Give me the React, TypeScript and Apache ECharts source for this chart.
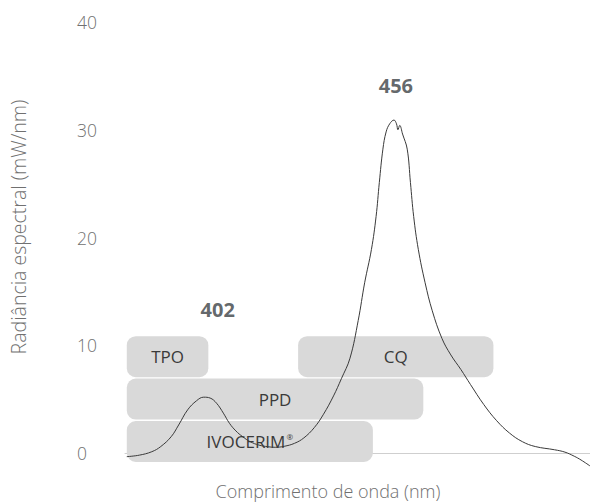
import React, { useEffect, useRef } from "react";
import * as echarts from "echarts";

// Spectral curve: wavelength (nm) vs spectral radiance (mW/nm)
const wavelengths = [
  380.5, 384, 387.5, 390, 392.9, 395, 397.5, 400, 402, 403.8, 405.6, 407.5, 409.2, 411, 412.9,
  415, 417.4, 420, 422, 424.5, 427.4, 430, 432.9, 435.5, 438.3, 440.5, 442.9, 445.2,
  447, 448.9, 450.2, 451.1, 452.1, 453, 454, 455.2, 455.9, 456.3, 456.8, 457.6, 458.9, 459.8,
  460.7, 462, 463.9, 465.9, 468.6, 471.1, 473.9, 476.6, 480.3, 483.9, 487.5, 491.1, 494.7,
  500.1, 503, 505.6, 507.5, 510,
];
const radiance = [
  -0.34, -0.2, 0.12, 0.6, 1.51, 2.6, 4.0, 4.85, 5.18, 5.1, 4.62, 3.7, 2.76, 2.05, 1.51,
  1.05, 0.74, 0.58, 0.53, 0.62, 0.9, 1.4, 2.35, 3.6, 5.3, 6.9, 8.8, 12.3,
  15.8, 18.9, 21.96, 25.1, 28.2, 29.8, 30.55, 30.9, 30.55, 30.0, 30.4, 29.6, 28.2, 25.1,
  21.96, 18.9, 15.8, 13.2, 10.64, 9.1, 7.75, 6.35, 4.5, 3.0, 1.85, 1.05, 0.6,
  0.3, 0.08, -0.3, -0.65, -1.2,
];

// Photoinitiator absorption bands (nm ranges) and their stacking row
const bandNames = ["TPO", "PPD", "IVOCERIM", "CQ"];
const bandStart = [380.5, 380.5, 380.5, 428.4];
const bandEnd = [403.3, 463.4, 449.3, 483];
const bandRow = [2, 1, 0, 2];

// Peak annotations
const peakLabels = ["402", "456"];
const peakX = [402, 456];
const peakY = [13.3, 34.1];

const yTicks = [0, 10, 20, 30, 40];

const FONT = "'Open Sans', Lato, sans-serif";

export default function App() {
  const ref = useRef<HTMLDivElement>(null);
  useEffect(() => {
    document.body.style.margin = "0";
    if (!ref.current) return;
    const chart = echarts.init(ref.current, null, { renderer: "svg" });
    const AXIS_OFFSET = 9;
    const ROW_PITCH = 42.4;
    const ROW_H = 41;
    chart.setOption({
      animation: false,
      textStyle: { fontFamily: FONT },
      grid: { left: 125, right: -12, top: 22, bottom: 51 },
      xAxis: {
        type: "value",
        min: 380,
        max: 510,
        offset: AXIS_OFFSET,
        axisLine: { show: true, lineStyle: { color: "#cfcfcf", width: 1 } },
        axisTick: { show: false },
        axisLabel: { show: false },
        splitLine: { show: false },
      },
      yAxis: {
        type: "value",
        min: yTicks[0],
        max: yTicks[yTicks.length - 1],
        interval: 10,
        axisLine: { show: false },
        axisTick: { show: false },
        splitLine: { show: false },
        axisLabel: {
          align: "left",
          margin: 48,
          color: "#707070",
          fontSize: 17.5,
          fontWeight: 300,
          fontFamily: FONT,
        },
      },
      graphic: [
        {
          type: "text",
          x: 18,
          y: 227,
          rotation: Math.PI / 2,
          style: {
            text: "Radiância espectral (mW/nm)",
            fill: "#707070",
            font: `300 19.5px ${FONT}`,
            align: "center",
            verticalAlign: "middle",
          },
        },
        {
          type: "text",
          x: 328,
          y: 491,
          style: {
            text: "Comprimento de onda (nm)",
            fill: "#707070",
            font: `300 18px ${FONT}`,
            align: "center",
            verticalAlign: "middle",
          },
        },
      ],
      series: [
        {
          type: "custom",
          z: 1,
          clip: false,
          encode: { x: [0, 1], y: 2 },
          data: bandNames.map((n, i) => [bandStart[i], bandEnd[i], bandRow[i]]),
          renderItem: (params: any, api: any) => {
            const s = api.coord([api.value(0), 0]);
            const e = api.coord([api.value(1), 0]);
            const row = api.value(2);
            const bottom = s[1] + AXIS_OFFSET - row * ROW_PITCH;
            const top = bottom - ROW_H;
            const name = bandNames[params.dataIndex];
            const isIvo = name === "IVOCERIM";
            return {
              type: "group",
              children: [
                {
                  type: "rect",
                  shape: { x: s[0], y: top, width: e[0] - s[0], height: ROW_H, r: 9 },
                  style: { fill: "#d9d9d9" },
                },
                {
                  type: "text",
                  x: (s[0] + e[0]) / 2,
                  y: top + ROW_H / 2,
                  style: {
                    text: isIvo ? "{a|IVOCERIM}{s|®}" : name,
                    fill: "#3a3a3a",
                    font: `400 17px ${FONT}`,
                    align: "center",
                    verticalAlign: "middle",
                    rich: isIvo
                      ? {
                          a: { fontSize: 17, fontFamily: FONT, fill: "#3a3a3a" },
                          s: { fontSize: 8, fontFamily: FONT, fill: "#3a3a3a", padding: [0, 0, 10, 1] },
                        }
                      : undefined,
                  },
                },
              ],
            };
          },
        },
        {
          type: "line",
          z: 3,
          clip: false,
          showSymbol: false,
          smooth: 0.4,
          lineStyle: { color: "#3a3a3a", width: 1 },
          data: wavelengths.map((w, i) => [w, radiance[i]]),
        },
        {
          type: "scatter",
          z: 4,
          symbolSize: 0,
          silent: true,
          data: peakLabels.map((l, i) => ({
            value: [peakX[i], peakY[i]],
            name: l,
            label: { offset: i === 0 ? [14, 0] : [-1, 0] },
          })),
          label: {
            show: true,
            position: "inside",
            formatter: (p: any) => p.name,
            color: "#3a3f44",
            fontSize: 20,
            fontWeight: "bold",
            fontFamily: FONT,
          },
        },
      ],
    });
    return () => chart.dispose();
  }, []);
  return <div ref={ref} style={{ width: 590, height: 504 }} />;
}
